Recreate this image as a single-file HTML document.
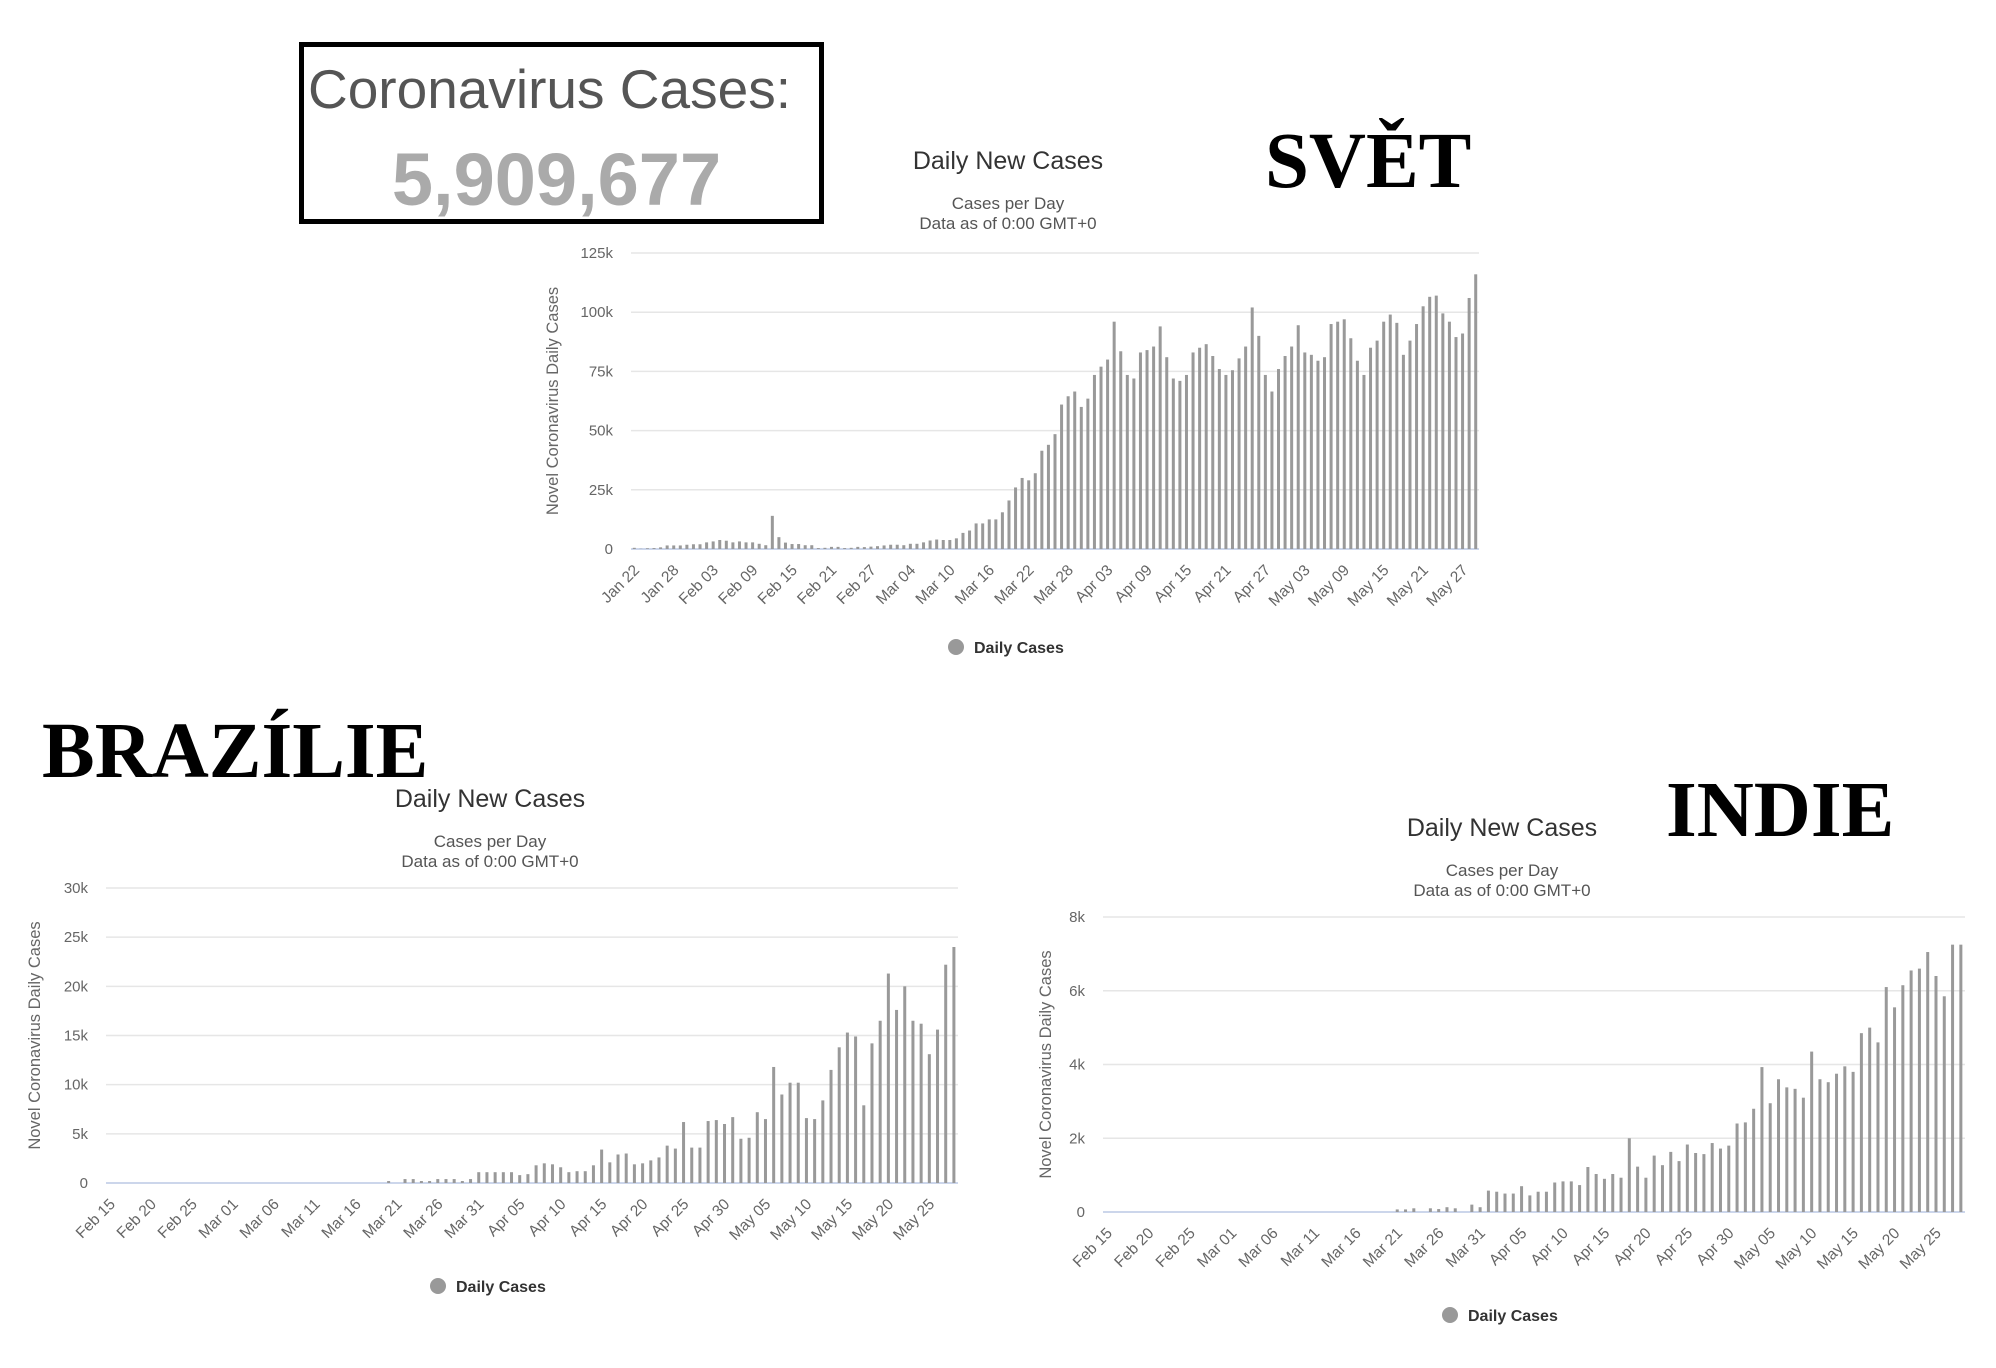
<!DOCTYPE html>
<html><head><meta charset="utf-8">
<style>
html,body{margin:0;padding:0;background:#fff;}
body{width:1996px;height:1368px;position:relative;overflow:hidden;font-family:"Liberation Sans","DejaVu Sans",sans-serif;}
.big{position:absolute;font-family:"Liberation Serif",serif;font-weight:bold;font-size:79px;color:#000;line-height:1;}
#box{position:absolute;left:299px;top:42px;width:515px;height:172px;border:5px solid #000;}
</style></head>
<body>
<div id="box">
  <div style="position:absolute;left:4px;top:10px;font-size:55px;color:#555;white-space:nowrap;">Coronavirus Cases:</div>
  <div style="position:absolute;left:0;width:505px;text-align:center;top:90px;font-size:74px;font-weight:bold;color:#aaa;">5,909,677</div>
</div>
<div class="big" style="left:1265px;top:122px;">SVĚT</div>
<div class="big" style="left:42px;top:712px;">BRAZÍLIE</div>
<div class="big" style="left:1666px;top:771px;">INDIE</div>
<svg id="svg" width="1996" height="1368" style="position:absolute;left:0;top:0;"></svg>
<script>
const worldValues=[0.5,0.1,0.3,0.4,0.7,1.5,1.5,1.5,1.8,2.0,2.0,2.8,3.2,3.8,3.5,2.8,3.2,2.8,2.8,2.2,1.6,14,5,2.7,2.1,2.1,1.6,1.6,0.4,0.5,0.9,0.9,0.4,0.5,0.9,0.8,1.0,1.2,1.5,1.8,1.8,1.6,2.2,2.2,2.8,3.6,4.0,3.8,3.8,4.5,6.8,7.8,10.8,10.8,12.5,12.5,15.5,20.5,26,30,29,32,41.5,44,48.5,61,64.5,66.5,60,63.5,73.5,77,80,96,83.5,73.5,72,83,84,85.5,94,81,72,71,73.5,83,85,86.5,81.5,76,73.5,75.5,80.5,85.5,102,90,73.5,66.5,76,81.5,85.5,94.5,83,82,79.5,81,95,96,97,89,79.5,73.5,85,88,96,99,95.5,82,88,95,102.5,106.5,107,99.5,96,89.5,91,106,116];
const worldTicks=["0","25k","50k","75k","100k","125k"];
const worldTickVals=[0,25,50,75,100,125];
const worldDates=["Jan 22","Jan 28","Feb 03","Feb 09","Feb 15","Feb 21","Feb 27","Mar 04","Mar 10","Mar 16","Mar 22","Mar 28","Apr 03","Apr 09","Apr 15","Apr 21","Apr 27","May 03","May 09","May 15","May 21","May 27"];

const brazilValues=[0,0,0,0,0,0,0,0,0,0,0,0,0,0,0,0,0,0,0,0,0,0,0,0,0,0,0,0,0,0,0,0,0,0,0.2,0,0.4,0.4,0.2,0.2,0.4,0.4,0.4,0.2,0.4,1.1,1.1,1.1,1.1,1.1,0.8,0.9,1.8,2.0,1.9,1.6,1.1,1.2,1.2,1.8,3.4,2.1,2.9,3.0,1.9,2.0,2.3,2.6,3.8,3.5,6.2,3.6,3.6,6.3,6.4,6.0,6.7,4.5,4.6,7.2,6.5,11.8,9.0,10.2,10.2,6.6,6.5,8.4,11.5,13.8,15.3,14.9,7.9,14.2,16.5,21.3,17.6,20.0,16.5,16.2,13.1,15.6,22.2,24.0];
const brazilTicks=["0","5k","10k","15k","20k","25k","30k"];
const brazilTickVals=[0,5,10,15,20,25,30];
const indiaValues=[0,0,0,0,0,0,0,0,0,0,0,0,0,0,0,0,0,0,0,0,0,0,0,0,0,0,0,0,0,0,0,0,0,0,0,0.07,0.07,0.1,0,0.1,0.08,0.13,0.1,0,0.2,0.13,0.58,0.55,0.5,0.5,0.7,0.45,0.55,0.55,0.8,0.83,0.83,0.73,1.22,1.03,0.9,1.03,0.93,2.0,1.23,0.93,1.53,1.27,1.63,1.38,1.83,1.6,1.57,1.87,1.72,1.8,2.4,2.43,2.8,3.93,2.95,3.6,3.38,3.34,3.1,4.35,3.6,3.52,3.75,3.95,3.8,4.85,5.0,4.6,6.1,5.55,6.15,6.55,6.6,7.05,6.4,5.85,7.25,7.25];
const indiaTicks=["0","2k","4k","6k","8k"];
const indiaTickVals=[0,2,4,6,8];
const febDates=["Feb 15","Feb 20","Feb 25","Mar 01","Mar 06","Mar 11","Mar 16","Mar 21","Mar 26","Mar 31","Apr 05","Apr 10","Apr 15","Apr 20","Apr 25","Apr 30","May 05","May 10","May 15","May 20","May 25"];

const NS="http://www.w3.org/2000/svg";
const svg=document.getElementById('svg');
function mk(tag,attrs,text){const e=document.createElementNS(NS,tag);for(const k in attrs)e.setAttribute(k,attrs[k]);if(text!==undefined)e.textContent=text;svg.appendChild(e);return e;}

function chart(cfg,values,tickVals,tickLabels,dates){
  const p=cfg.prefix;
  const yS=v=>cfg.y0-(v/cfg.max)*(cfg.y0-cfg.yTop);
  const n=values.length;
  const step=(cfg.x1-cfg.x0)/n;
  const xS=i=>cfg.x0+step*(i+0.5);
  let t=mk('text',{x:cfg.cx,y:cfg.titleY,'text-anchor':'middle','font-size':25,fill:'#333'},'Daily New Cases');
  
  
  t=mk('text',{x:cfg.cx,y:cfg.titleY+40,'text-anchor':'middle','font-size':17,fill:'#555'},'Cases per Day');
  
  
  t=mk('text',{x:cfg.cx,y:cfg.titleY+60,'text-anchor':'middle','font-size':17,fill:'#555'},'Data as of 0:00 GMT+0');
  
  
  tickVals.forEach((v,i)=>{
    const y=yS(v);
    const g=mk('line',{x1:cfg.x0,x2:cfg.x1,y1:y,y2:y,stroke:i===0?'#ccd6eb':'#e6e6e6','stroke-width':i===0?2:1.5});
    
    
    const l=mk('text',{x:cfg.x0-18,y:y+5,'text-anchor':'end','font-size':15,fill:'#666'},tickLabels[i]);
    
    
  });
  values.forEach((v,i)=>{
    if(v<=0)return;
    const y=yS(v);
    const r=mk('rect',{x:xS(i)-1.5,y:y,width:3,height:cfg.y0-y,fill:'#999'});
    
    
  });
  dates.forEach((d,k)=>{
    const x=xS(k*cfg.every)+6, y=cfg.y0+22;
    const l=mk('text',{x:x,y:y,'text-anchor':'end','font-size':15.5,fill:'#666',transform:`rotate(-45 ${x} ${y})`},d);
    
    
  });
  const at=mk('text',{x:cfg.axX,y:(cfg.y0+cfg.yTop)/2,'text-anchor':'middle','font-size':16.5,fill:'#666',transform:`rotate(-90 ${cfg.axX} ${(cfg.y0+cfg.yTop)/2})`},'Novel Coronavirus Daily Cases');
  
  
  const c=mk('circle',{cx:cfg.legX,cy:cfg.legY,r:8,fill:'#999'});
  
  
  const lt=mk('text',{x:cfg.legX+18,y:cfg.legY+6,'font-size':16,'font-weight':'bold',fill:'#333'},'Daily Cases');
  
  
}
chart({prefix:'world',x0:631,x1:1479,y0:549,yTop:253,max:125,cx:1008,titleY:169,axX:558,legX:956,legY:647,every:6},worldValues,worldTickVals,worldTicks,worldDates);
chart({prefix:'brazil',x0:106,x1:958,y0:1183,yTop:888,max:30,cx:490,titleY:807,axX:40,legX:438,legY:1286,every:5},brazilValues,brazilTickVals,brazilTicks,febDates);
chart({prefix:'india',x0:1103,x1:1965,y0:1212,yTop:917,max:8,cx:1502,titleY:836,axX:1051,legX:1450,legY:1315,every:5},indiaValues,indiaTickVals,indiaTicks,febDates);
</script>
</body></html>
